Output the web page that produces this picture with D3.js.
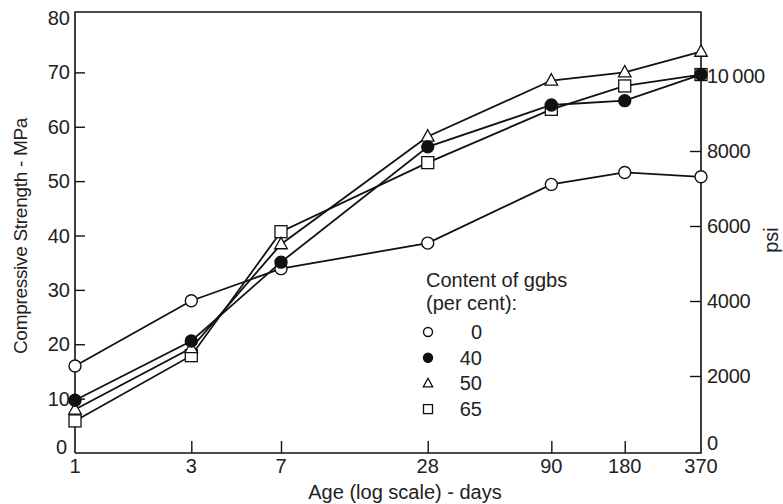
<!DOCTYPE html>
<html>
<head>
<meta charset="utf-8">
<script src="https://cdn.jsdelivr.net/npm/d3@7"></script>
<style>
  html, body { margin: 0; padding: 0; background: #fff; }
  svg { display: block; }
  text { font-family: "Liberation Sans", Arial, Helvetica, sans-serif; fill: #222; }
</style>
</head>
<body>
<script>
// ---- data ----
const days = [1, 3, 7, 28, 90, 180, 370];
const dayTicks = [1, 3, 7, 28, 90, 180, 370];
const mpaTicks = [0, 10, 20, 30, 40, 50, 60, 70, 80];
const psiTicks = [0, 2000, 4000, 6000, 8000, 10000];
const ggbs0  = [16.0, 28.0, 33.9, 38.6, 49.4, 51.6, 50.8];
const ggbs40 = [9.7, 20.6, 35.1, 56.3, 64.0, 64.8, 69.6];
const ggbs50 = [8.0, 19.3, 38.4, 58.2, 68.5, 70.0, 73.8];
const ggbs65 = [5.9, 17.9, 40.7, 53.4, 63.2, 67.5, 69.6];
const seriesNames = ["0", "40", "50", "65"];
const legendTitle = ["Content of ggbs", "(per cent):"];

(function () {
const W = 783, H = 504;
const svg = d3.select("body").append("svg").attr("width", W).attr("height", H);

const pL = 75, pR = 701, pT = 12, pB = 453;
const x = d3.scaleLog().domain([1, 370]).range([pL, pR]);
const y = d3.scaleLinear().domain([0, 80]).range([pB, 18]);
const yPsi = d3.scaleLinear().domain([0, 10000]).range([451, 76]);

const ink = "#111";
const fs = 20;

// frame
svg.append("path").attr("d", `M${pL},${pB}V${pT}H${pR}V${pB}H${pL}`)
  .attr("stroke", ink).attr("stroke-width", 1.6).attr("fill", "none");

// left axis
const gL = svg.append("g").attr("transform", `translate(${pL},0)`)
  .call(d3.axisRight(y).tickValues(mpaTicks.filter(d => d > 0 && d < 80)).tickSize(10).tickFormat(""));
gL.select(".domain").remove();
gL.selectAll("line").attr("stroke", ink).attr("stroke-width", 1.4);
svg.append("g").selectAll("text").data(mpaTicks).join("text")
  .attr("x", d => d === 0 ? pL - 8 : pL - 5).attr("y", d => d === 0 ? y(d) - 6 : y(d))
  .attr("dy", "0.35em").attr("text-anchor", "end")
  .style("font-size", fs + "px")
  .text(d => d);

// right axis (psi)
const gR = svg.append("g").attr("transform", `translate(${pR},0)`)
  .call(d3.axisLeft(yPsi).tickValues(psiTicks.filter(d => d > 0)).tickSize(11).tickFormat(""));
gR.select(".domain").remove();
gR.selectAll("line").attr("stroke", ink).attr("stroke-width", 1.4);
svg.append("g").selectAll("text").data(psiTicks).join("text")
  .attr("x", pR + 6).attr("y", d => d === 0 ? pB - 10 : yPsi(d))
  .attr("dy", "0.35em").attr("text-anchor", "start")
  .style("font-size", fs + "px").style("letter-spacing", "-0.3px")
  .text(d => d === 10000 ? "10\u2009000" : d);

// bottom axis
const gB = svg.append("g").attr("transform", `translate(0,${pB})`)
  .call(d3.axisTop(x).tickValues(dayTicks.filter(d => d > 1 && d < 370)).tickSize(12).tickFormat(""));
gB.select(".domain").remove();
gB.selectAll("line").attr("stroke", ink).attr("stroke-width", 1.4);
svg.append("g").selectAll("text").data(dayTicks).join("text")
  .attr("x", d => x(d)).attr("y", 466).attr("dy", "0.35em").attr("text-anchor", "middle")
  .style("font-size", fs + "px")
  .text(d => d);

// axis titles
svg.append("text").attr("transform", "translate(20,236) rotate(-90)")
  .attr("text-anchor", "middle").attr("dy", "0.35em")
  .style("font-size", "19px").style("letter-spacing", "-0.3px")
  .text("Compressive Strength - MPa");
svg.append("text").attr("transform", "translate(771,240) rotate(-90)")
  .attr("text-anchor", "middle").attr("dy", "0.35em")
  .style("font-size", fs + "px")
  .text("psi");
svg.append("text").attr("x", 405).attr("y", 492).attr("dy", "0.35em")
  .attr("text-anchor", "middle")
  .style("font-size", fs + "px")
  .text("Age (log scale) - days");

// markers
function marker(g, type, cx, cy, s) {
  if (type === "circleOpen" || type === "circleFilled") {
    g.append("circle").attr("cx", cx).attr("cy", cy).attr("r", s * 0.5)
      .attr("fill", type === "circleFilled" ? ink : "#fff").attr("stroke", ink).attr("stroke-width", 1.4);
  } else if (type === "triangle") {
    const h = s * 0.95, w = s * 1.05;
    g.append("path").attr("d", `M${cx},${cy - h * 0.6}L${cx + w / 2},${cy + h * 0.4}L${cx - w / 2},${cy + h * 0.4}Z`)
      .attr("fill", "#fff").attr("stroke", ink).attr("stroke-width", 1.3);
  } else {
    g.append("rect").attr("x", cx - s / 2).attr("y", cy - s / 2).attr("width", s).attr("height", s)
      .attr("fill", "#fff").attr("stroke", ink).attr("stroke-width", 1.3);
  }
}

const series = [
  { name: seriesNames[0], vals: ggbs0, type: "circleOpen" },
  { name: seriesNames[3], vals: ggbs65, type: "square" },
  { name: seriesNames[2], vals: ggbs50, type: "triangle" },
  { name: seriesNames[1], vals: ggbs40, type: "circleFilled" }
];

const line = d3.line().x(d => x(d[0])).y(d => y(d[1]));
const gLines = svg.append("g");
series.forEach(s => {
  gLines.append("path").datum(days.map((d, i) => [d, s.vals[i]]))
    .attr("d", line).attr("fill", "none").attr("stroke", ink).attr("stroke-width", 1.8);
});
const gMarks = svg.append("g");
series.forEach(s => {
  days.forEach((d, i) => marker(gMarks, s.type, x(d), y(s.vals[i]), 12));
});

// legend
const lg = svg.append("g");
lg.selectAll("text.t").data(legendTitle).join("text").attr("class", "t")
  .attr("x", 426).attr("y", (d, i) => 280 + i * 23).attr("dy", "0.35em")
  .style("font-size", fs + "px").text(d => d);
const legendItems = [
  { name: seriesNames[0], type: "circleOpen" },
  { name: seriesNames[1], type: "circleFilled" },
  { name: seriesNames[2], type: "triangle" },
  { name: seriesNames[3], type: "square" }
];
legendItems.forEach((it, i) => {
  const cy = 332 + i * 25.7;
  marker(lg, it.type, 428, cy, 9);
  lg.append("text").attr("x", 482).attr("y", cy).attr("dy", "0.35em").attr("text-anchor", "end")
    .style("font-size", fs + "px").text(it.name);
});
})();
</script>
</body>
</html>
